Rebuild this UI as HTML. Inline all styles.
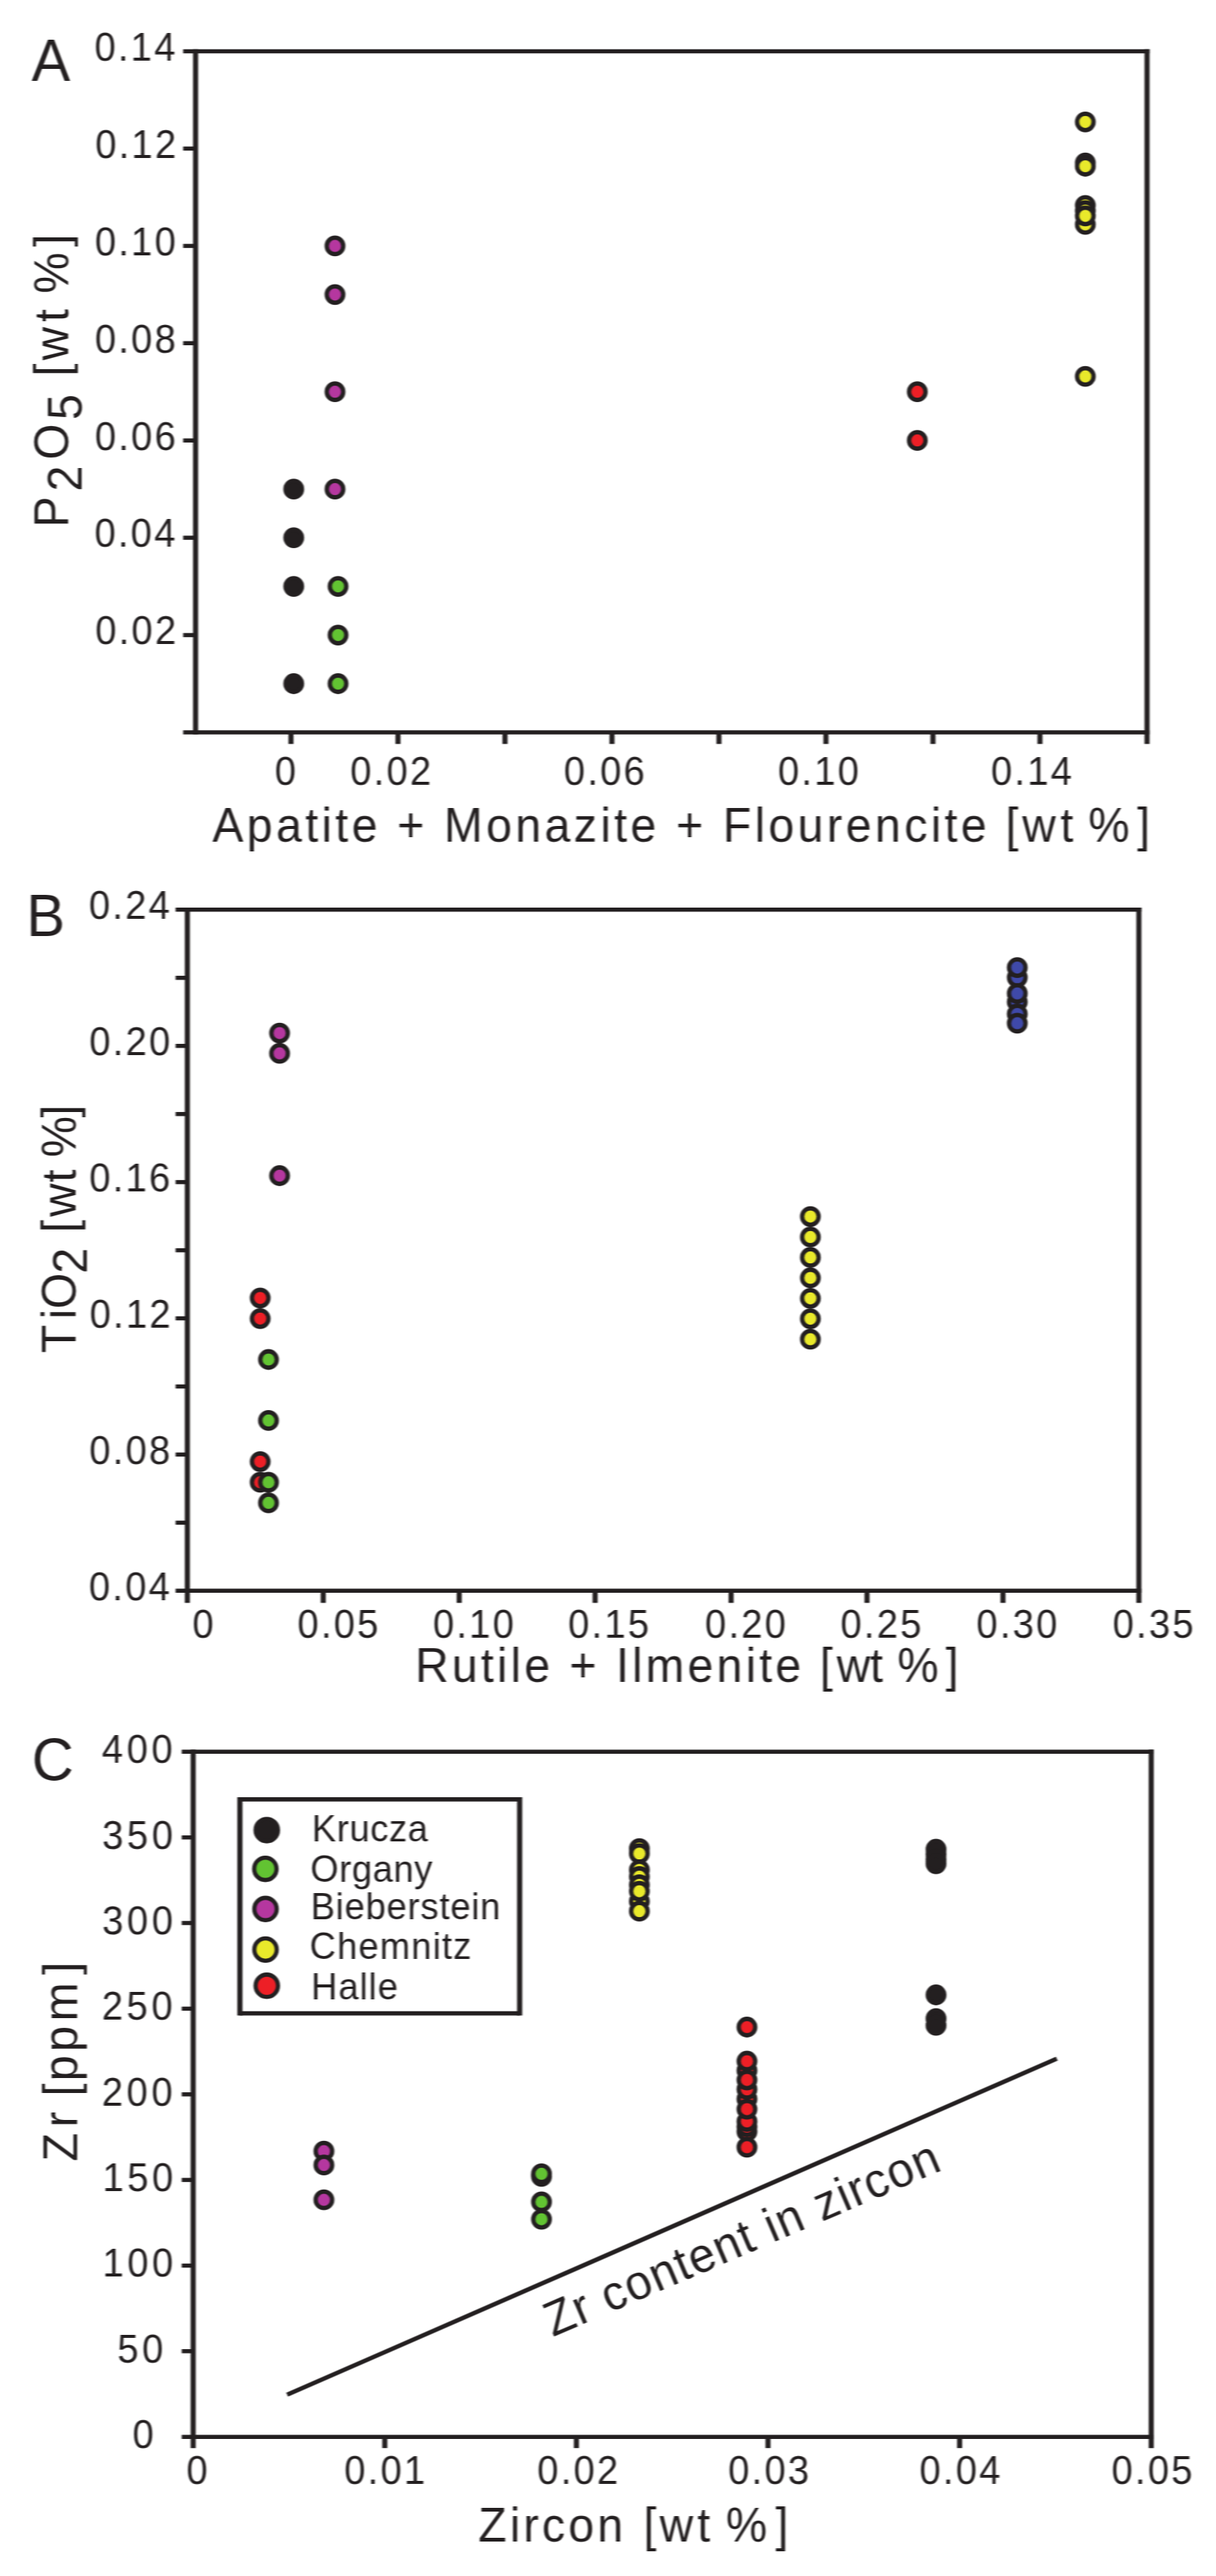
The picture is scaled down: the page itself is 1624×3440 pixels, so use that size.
<!DOCTYPE html>
<html lang="en">
<head>
<meta charset="utf-8">
<title>Scatter plots A, B, C</title>
<style>
html,body{margin:0;padding:0;background:#fff;}
body{width:1624px;height:3440px;}
svg{display:block;}
.ax *{fill:none;stroke:#231f20;stroke-width:5.9;stroke-linecap:butt;stroke-linejoin:miter;}
.ax .h{stroke-width:5.5;}
.ax .v{stroke-width:6.8;}
.pt circle{stroke:#231f20;stroke-width:5.8;}
.tx text{font-family:"Liberation Sans",Arial,Helvetica,sans-serif;fill:#231f20;white-space:pre;}
</style>
</head>
<body>
<svg width="1624" height="3440" viewBox="0 0 1624 3440">
<defs><filter id="soft" x="0" y="0" width="1624" height="3440" filterUnits="userSpaceOnUse" color-interpolation-filters="sRGB"><feGaussianBlur stdDeviation="0.95 0.65"/></filter></defs>
<rect width="1624" height="3440" fill="#fff"/>
<g filter="url(#soft)">
<rect width="1624" height="3440" fill="#fff"/>
<g class="ax">
<path class="h" d="M244.6 68.5H1535.3"/>
<path class="h" d="M244.6 978.0H1535.3"/>
<path class="v" d="M261.2 65.8V980.8"/>
<path class="v" d="M1531.9 65.8V993.5"/>
<path class="h" d="M244.6 198.4H261.2"/>
<path class="h" d="M244.6 328.4H261.2"/>
<path class="h" d="M244.6 458.3H261.2"/>
<path class="h" d="M244.6 588.2H261.2"/>
<path class="h" d="M244.6 718.1H261.2"/>
<path class="h" d="M244.6 848.1H261.2"/>
<path class="v" d="M388.6 978.0V993.5"/>
<path class="v" d="M531.5 978.0V993.5"/>
<path class="v" d="M674.4 978.0V993.5"/>
<path class="v" d="M817.3 978.0V993.5"/>
<path class="v" d="M960.2 978.0V993.5"/>
<path class="v" d="M1103.1 978.0V993.5"/>
<path class="v" d="M1246.0 978.0V993.5"/>
<path class="v" d="M1388.9 978.0V993.5"/>
</g>
<g class="pt">
<circle cx="392.3" cy="653.2" r="11.0" fill="#231f20"/>
<circle cx="392.3" cy="718.1" r="11.0" fill="#231f20"/>
<circle cx="392.3" cy="783.1" r="11.0" fill="#231f20"/>
<circle cx="392.3" cy="913.0" r="11.0" fill="#231f20"/>
<circle cx="447.4" cy="328.4" r="11.0" fill="#b5379f"/>
<circle cx="447.4" cy="393.3" r="11.0" fill="#b5379f"/>
<circle cx="447.4" cy="523.2" r="11.0" fill="#b5379f"/>
<circle cx="447.4" cy="653.2" r="11.0" fill="#b5379f"/>
<circle cx="451.5" cy="783.1" r="11.0" fill="#62c332"/>
<circle cx="451.5" cy="848.1" r="11.0" fill="#62c332"/>
<circle cx="451.5" cy="913.0" r="11.0" fill="#62c332"/>
<circle cx="1225.1" cy="523.2" r="11.0" fill="#ed1f26"/>
<circle cx="1225.1" cy="588.2" r="11.0" fill="#ed1f26"/>
<circle cx="1449.5" cy="162.8" r="11.0" fill="#e9e92b"/>
<circle cx="1449.5" cy="217.7" r="11.0" fill="#e9e92b"/>
<circle cx="1449.5" cy="222.0" r="11.0" fill="#e9e92b"/>
<circle cx="1449.5" cy="274.3" r="11.0" fill="#e9e92b"/>
<circle cx="1449.5" cy="281.4" r="11.0" fill="#e9e92b"/>
<circle cx="1449.5" cy="299.7" r="11.0" fill="#e9e92b"/>
<circle cx="1449.5" cy="288.3" r="11.0" fill="#e9e92b"/>
<circle cx="1449.5" cy="502.7" r="11.0" fill="#e9e92b"/>
</g>
<g class="ax">
<path class="h" d="M234.5 1214.8H1524.4"/>
<path class="h" d="M234.5 2124.3H1524.4"/>
<path class="v" d="M250.2 1212.0V2140.5"/>
<path class="v" d="M1521.0 1212.0V2140.5"/>
<path class="h" d="M234.5 1305.8H250.2"/>
<path class="h" d="M234.5 1396.7H250.2"/>
<path class="h" d="M234.5 1487.7H250.2"/>
<path class="h" d="M234.5 1578.6H250.2"/>
<path class="h" d="M234.5 1669.6H250.2"/>
<path class="h" d="M234.5 1760.5H250.2"/>
<path class="h" d="M234.5 1851.5H250.2"/>
<path class="h" d="M234.5 1942.4H250.2"/>
<path class="h" d="M234.5 2033.4H250.2"/>
<path class="v" d="M431.7 2124.3V2140.5"/>
<path class="v" d="M613.3 2124.3V2140.5"/>
<path class="v" d="M794.8 2124.3V2140.5"/>
<path class="v" d="M976.4 2124.3V2140.5"/>
<path class="v" d="M1157.9 2124.3V2140.5"/>
<path class="v" d="M1339.5 2124.3V2140.5"/>
</g>
<g class="pt">
<circle cx="373.4" cy="1379.6" r="11.0" fill="#b5379f"/>
<circle cx="373.4" cy="1406.7" r="11.0" fill="#b5379f"/>
<circle cx="373.4" cy="1570.0" r="11.0" fill="#b5379f"/>
<circle cx="347.5" cy="1733.3" r="11.0" fill="#ed1f26"/>
<circle cx="347.5" cy="1760.8" r="11.0" fill="#ed1f26"/>
<circle cx="358.6" cy="1815.5" r="11.0" fill="#62c332"/>
<circle cx="358.6" cy="1896.9" r="11.0" fill="#62c332"/>
<circle cx="347.5" cy="1951.8" r="11.0" fill="#ed1f26"/>
<circle cx="347.5" cy="1979.4" r="11.0" fill="#ed1f26"/>
<circle cx="358.6" cy="1979.4" r="11.0" fill="#62c332"/>
<circle cx="358.6" cy="2006.9" r="11.0" fill="#62c332"/>
<circle cx="1082.3" cy="1624.6" r="11.0" fill="#e9e92b"/>
<circle cx="1082.3" cy="1651.9" r="11.0" fill="#e9e92b"/>
<circle cx="1082.3" cy="1679.2" r="11.0" fill="#e9e92b"/>
<circle cx="1082.3" cy="1706.5" r="11.0" fill="#e9e92b"/>
<circle cx="1082.3" cy="1733.8" r="11.0" fill="#e9e92b"/>
<circle cx="1082.3" cy="1761.1" r="11.0" fill="#e9e92b"/>
<circle cx="1082.3" cy="1788.4" r="11.0" fill="#e9e92b"/>
<circle cx="1358.6" cy="1305.3" r="11.0" fill="#3f49a9"/>
<circle cx="1358.6" cy="1292.1" r="11.0" fill="#3f49a9"/>
<circle cx="1358.6" cy="1338.0" r="11.0" fill="#3f49a9"/>
<circle cx="1358.6" cy="1354.0" r="11.0" fill="#3f49a9"/>
<circle cx="1358.6" cy="1326.7" r="11.0" fill="#3f49a9"/>
<circle cx="1358.6" cy="1366.4" r="11.0" fill="#3f49a9"/>
</g>
<g class="ax">
<path class="h" d="M242.7 2339.3H1540.9"/>
<path class="h" d="M242.7 3254.2H1540.9"/>
<path class="v" d="M258.0 2336.6V3269.2"/>
<path class="v" d="M1537.5 2336.6V3269.2"/>
<path class="h" d="M242.7 2453.7H258.0"/>
<path class="h" d="M242.7 2568.0H258.0"/>
<path class="h" d="M242.7 2682.4H258.0"/>
<path class="h" d="M242.7 2796.8H258.0"/>
<path class="h" d="M242.7 2911.1H258.0"/>
<path class="h" d="M242.7 3025.5H258.0"/>
<path class="h" d="M242.7 3139.8H258.0"/>
<path class="v" d="M513.9 3254.2V3269.2"/>
<path class="v" d="M769.8 3254.2V3269.2"/>
<path class="v" d="M1025.7 3254.2V3269.2"/>
<path class="v" d="M1281.6 3254.2V3269.2"/>
<path d="M320.4 2402.9H694.0" stroke-width="5.8" style="stroke-width:5.8"/>
<path d="M320.4 2688.7H694.0" style="stroke-width:5.8"/>
<path d="M320.4 2400.00V2691.60" style="stroke-width:6.9"/>
<path d="M694.0 2400.00V2691.60" style="stroke-width:6.9"/>
<line x1="383.5" y1="3197.9" x2="1411.4" y2="2749.1"/>
</g>
<g class="pt">
<circle cx="432.6" cy="2872.7" r="11.0" fill="#b5379f"/>
<circle cx="432.6" cy="2891.2" r="11.0" fill="#b5379f"/>
<circle cx="432.6" cy="2937.7" r="11.0" fill="#b5379f"/>
<circle cx="723.2" cy="2906.4" r="11.0" fill="#62c332"/>
<circle cx="723.2" cy="2902.9" r="11.0" fill="#62c332"/>
<circle cx="723.2" cy="2940.4" r="11.0" fill="#62c332"/>
<circle cx="723.2" cy="2963.6" r="11.0" fill="#62c332"/>
<circle cx="853.9" cy="2539.0" r="11.0" fill="#e9e92b"/>
<circle cx="853.9" cy="2468.7" r="11.0" fill="#e9e92b"/>
<circle cx="853.9" cy="2475.3" r="11.0" fill="#e9e92b"/>
<circle cx="853.9" cy="2497.0" r="11.0" fill="#e9e92b"/>
<circle cx="853.9" cy="2506.0" r="11.0" fill="#e9e92b"/>
<circle cx="853.9" cy="2517.0" r="11.0" fill="#e9e92b"/>
<circle cx="853.9" cy="2525.6" r="11.0" fill="#e9e92b"/>
<circle cx="853.9" cy="2552.2" r="11.0" fill="#e9e92b"/>
<circle cx="997.6" cy="2765.0" r="11.0" fill="#ed1f26"/>
<circle cx="997.6" cy="2803.0" r="11.0" fill="#ed1f26"/>
<circle cx="997.6" cy="2846.5" r="11.0" fill="#ed1f26"/>
<circle cx="997.6" cy="2840.0" r="11.0" fill="#ed1f26"/>
<circle cx="997.6" cy="2833.0" r="11.0" fill="#ed1f26"/>
<circle cx="997.6" cy="2816.6" r="11.0" fill="#ed1f26"/>
<circle cx="997.6" cy="2790.2" r="11.0" fill="#ed1f26"/>
<circle cx="997.6" cy="2777.6" r="11.0" fill="#ed1f26"/>
<circle cx="997.6" cy="2752.5" r="11.0" fill="#ed1f26"/>
<circle cx="997.6" cy="2707.0" r="11.0" fill="#ed1f26"/>
<circle cx="997.6" cy="2867.4" r="11.0" fill="#ed1f26"/>
<circle cx="1250.1" cy="2469.5" r="11.0" fill="#231f20"/>
<circle cx="1250.1" cy="2476.0" r="11.0" fill="#231f20"/>
<circle cx="1250.1" cy="2483.0" r="11.0" fill="#231f20"/>
<circle cx="1250.1" cy="2488.8" r="11.0" fill="#231f20"/>
<circle cx="1250.1" cy="2664.0" r="11.0" fill="#231f20"/>
<circle cx="1250.1" cy="2695.7" r="11.0" fill="#231f20"/>
<circle cx="1250.1" cy="2704.7" r="11.0" fill="#231f20"/>
<circle cx="356.3" cy="2443.9" r="14.95" fill="#231f20" style="stroke-width:5.6"/>
<circle cx="354.4" cy="2495.7" r="14.95" fill="#62c332" style="stroke-width:5.6"/>
<circle cx="354.6" cy="2549.3" r="14.95" fill="#b5379f" style="stroke-width:5.6"/>
<circle cx="354.6" cy="2603.5" r="14.95" fill="#e9e92b" style="stroke-width:5.6"/>
<circle cx="356.3" cy="2651.8" r="14.95" fill="#ed1f26" style="stroke-width:5.6"/>
</g>
<g class="tx">
<text font-size="80.5" transform="translate(42.20 108.00) scale(0.96 1)">A</text>
<text font-size="53" letter-spacing="3.125" transform="translate(126.20 80.80) scale(0.96 1)">0.14</text>
<text font-size="53" letter-spacing="3.125" transform="translate(127.20 210.73) scale(0.96 1)">0.12</text>
<text font-size="53" letter-spacing="3.125" transform="translate(126.70 340.66) scale(0.96 1)">0.10</text>
<text font-size="53" letter-spacing="3.125" transform="translate(126.70 470.59) scale(0.96 1)">0.08</text>
<text font-size="53" letter-spacing="3.125" transform="translate(126.70 600.52) scale(0.96 1)">0.06</text>
<text font-size="53" letter-spacing="3.125" transform="translate(126.20 730.45) scale(0.96 1)">0.04</text>
<text font-size="53" letter-spacing="3.125" transform="translate(127.20 860.38) scale(0.96 1)">0.02</text>
<text font-size="53" transform="translate(367.00 1047.50) scale(0.96 1)">0</text>
<text font-size="53" letter-spacing="3.125" transform="translate(467.75 1047.50) scale(0.96 1)">0.02</text>
<text font-size="53" letter-spacing="3.125" transform="translate(753.10 1047.50) scale(0.96 1)">0.06</text>
<text font-size="53" letter-spacing="3.125" transform="translate(1039.00 1047.50) scale(0.96 1)">0.10</text>
<text font-size="53" letter-spacing="3.125" transform="translate(1323.50 1047.50) scale(0.96 1)">0.14</text>
<text font-size="64.5" letter-spacing="4.795" transform="translate(283.70 1124.30) scale(0.96 1)">Apatite + Monazite + Flourencite <tspan letter-spacing="0" x="1103.5 1126.7 1179.8 1197.7 1218.6 1286.5">[wt %]</tspan></text>
<text font-size="80.5" transform="translate(35.20 1249.80) scale(0.96 1)">B</text>
<text font-size="53" letter-spacing="3.125" transform="translate(118.75 1227.10) scale(0.96 1)">0.24</text>
<text font-size="53" letter-spacing="3.125" transform="translate(119.25 1409.00) scale(0.96 1)">0.20</text>
<text font-size="53" letter-spacing="3.125" transform="translate(119.25 1590.90) scale(0.96 1)">0.16</text>
<text font-size="53" letter-spacing="3.125" transform="translate(119.75 1772.80) scale(0.96 1)">0.12</text>
<text font-size="53" letter-spacing="3.125" transform="translate(119.25 1954.70) scale(0.96 1)">0.08</text>
<text font-size="53" letter-spacing="3.125" transform="translate(118.75 2136.60) scale(0.96 1)">0.04</text>
<text font-size="53" transform="translate(257.00 2187.30) scale(0.96 1)">0</text>
<text font-size="53" letter-spacing="3.125" transform="translate(397.35 2187.30) scale(0.96 1)">0.05</text>
<text font-size="53" letter-spacing="3.125" transform="translate(578.20 2187.30) scale(0.96 1)">0.10</text>
<text font-size="53" letter-spacing="3.125" transform="translate(758.80 2187.30) scale(0.96 1)">0.15</text>
<text font-size="53" letter-spacing="3.125" transform="translate(941.60 2187.30) scale(0.96 1)">0.20</text>
<text font-size="53" letter-spacing="3.125" transform="translate(1122.50 2187.30) scale(0.96 1)">0.25</text>
<text font-size="53" letter-spacing="3.125" transform="translate(1304.10 2187.30) scale(0.96 1)">0.30</text>
<text font-size="53" letter-spacing="3.125" transform="translate(1486.00 2187.30) scale(0.96 1)">0.35</text>
<text font-size="64.5" letter-spacing="4.557" transform="translate(554.40 2246.00) scale(0.96 1)">Rutile + Ilmenite <tspan letter-spacing="0" x="563.1 586.6 632.9 650.8 671.0 738.0">[wt %]</tspan></text>
<text font-size="80.5" transform="translate(42.55 2377.30) scale(0.96 1)">C</text>
<text font-size="53" letter-spacing="5.0" transform="translate(136.10 2354.30) scale(0.96 1)">400</text>
<text font-size="53" letter-spacing="5.0" transform="translate(136.50 2468.66) scale(0.96 1)">350</text>
<text font-size="53" letter-spacing="5.0" transform="translate(136.50 2583.03) scale(0.96 1)">300</text>
<text font-size="53" letter-spacing="5.0" transform="translate(136.00 2697.39) scale(0.96 1)">250</text>
<text font-size="53" letter-spacing="5.0" transform="translate(136.00 2811.75) scale(0.96 1)">200</text>
<text font-size="53" letter-spacing="5.0" transform="translate(136.93 2926.11) scale(0.96 1)">150</text>
<text font-size="53" letter-spacing="5.0" transform="translate(136.93 3040.47) scale(0.96 1)">100</text>
<text font-size="53" letter-spacing="5.0" transform="translate(156.70 3154.84) scale(0.96 1)">50</text>
<text font-size="53" transform="translate(176.90 3269.20) scale(0.96 1)">0</text>
<text font-size="53" transform="translate(249.05 3316.50) scale(0.96 1)">0</text>
<text font-size="53" letter-spacing="3.125" transform="translate(459.80 3316.50) scale(0.96 1)">0.01</text>
<text font-size="53" letter-spacing="3.125" transform="translate(717.60 3316.50) scale(0.96 1)">0.02</text>
<text font-size="53" letter-spacing="3.125" transform="translate(972.50 3316.50) scale(0.96 1)">0.03</text>
<text font-size="53" letter-spacing="3.125" transform="translate(1228.00 3316.50) scale(0.96 1)">0.04</text>
<text font-size="53" letter-spacing="3.125" transform="translate(1484.50 3316.50) scale(0.96 1)">0.05</text>
<text font-size="64.5" letter-spacing="4.438" transform="translate(638.80 3394.20) scale(0.96 1)">Zircon <tspan letter-spacing="0" x="230.0 252.4 304.6 322.5 344.6 413.4">[wt %]</tspan></text>
<text font-size="50.5" letter-spacing="0.812" transform="translate(416.60 2459.30) scale(0.96 1)">Krucza</text>
<text font-size="50.5" letter-spacing="0.875" transform="translate(414.40 2513.00) scale(0.96 1)">Organy</text>
<text font-size="50.5" letter-spacing="1.135" transform="translate(414.90 2562.60) scale(0.96 1)">Bieberstein</text>
<text font-size="50.5" letter-spacing="1.667" transform="translate(413.60 2615.60) scale(0.96 1)">Chemnitz</text>
<text font-size="50.5" letter-spacing="1.38" transform="translate(415.60 2669.70) scale(0.96 1)">Halle</text>
<text font-size="65.2" letter-spacing="1.935" transform="translate(738.16 3120.99) rotate(-23.2) scale(0.96 1)">Zr content in zircon</text>
<text font-size="64.5" x="-5.3 44.7 88.6 144.2 180.1 204.5 227.0 280.2 298.1 319.8 384.7" dy="0 17.6 -17.6 17.6 -17.6 0 0 0 0 0 0" transform="translate(91.3 699.1) rotate(-90) scale(0.96 1)">P2O5 [wt %]</text>
<text font-size="64.5" x="-1.4 45.8 60.1 109.2 145.0 166.0 188.3 236.2 254.1 271.0 326.3" dy="0 0 0 15.3 -15.3 0 0 0 0 0 0" transform="translate(101.1 1805.7) rotate(-90) scale(0.96 1)">TiO2 [wt %]</text>
<text font-size="65" x="-2.1 45.5 67.1 88.5 109.7 150.4 193.0 257.6" transform="translate(103.3 2884.5) rotate(-90) scale(0.96 1)">Zr [ppm]</text>
</g>
</g>
</svg>
</body>
</html>
